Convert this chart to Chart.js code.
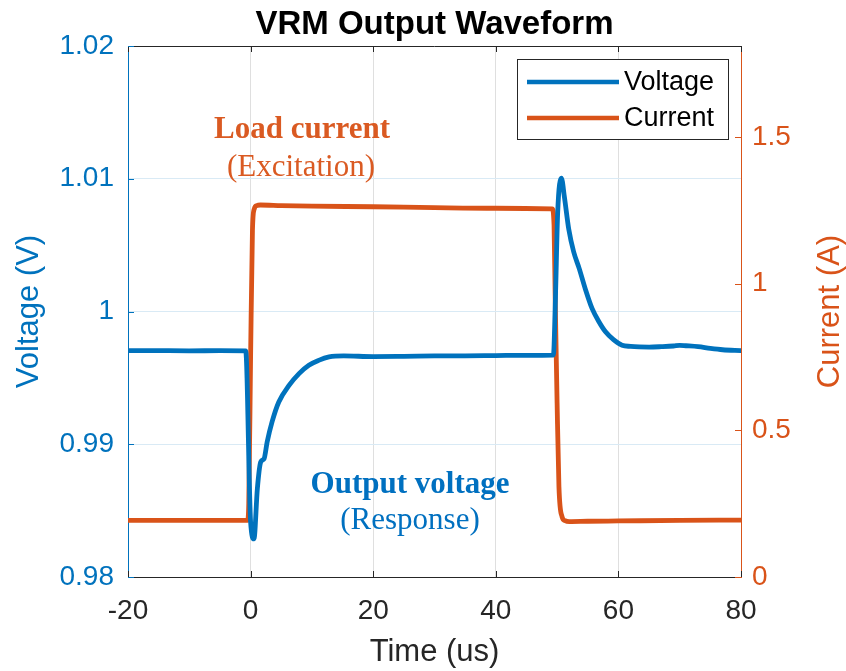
<!DOCTYPE html>
<html lang="en">
<head>
<meta charset="UTF-8">
<title>VRM Output Waveform</title>
<script src="https://cdn.jsdelivr.net/npm/chart.js"></script>
<style>
  html, body { margin: 0; padding: 0; background: #fff; }
  canvas { display: block; }
</style>
</head>
<body>
<canvas id="grafico" width="846" height="671"></canvas>
<script>
// time axis (us) and measured waveforms
const tVolt = [-20, -15, -10, -5, -0.8, 0.0, 0.55, 1.1, 1.65, 2.2, 2.7, 3.5, 4.6, 6.3, 7.9, 9.5, 11.1, 12.8, 15.2, 20, 25, 30, 35, 40, 45, 49.4,
  49.7, 50.1, 50.7, 51.2, 51.9, 52.7, 53.6, 54.6, 55.7, 56.8, 57.9, 59.2, 60.6, 62, 63.4, 65, 67, 69, 70, 71, 73, 75, 77, 80];
const volt = [0.99706, 0.99705, 0.99704, 0.99705, 0.99704, 0.98415, 0.98287, 0.98664, 0.98866, 0.98891, 0.99017, 0.99168, 0.99318, 0.99445,
  0.99532, 0.99595, 0.99632, 0.99658, 0.99666, 0.99660, 0.99662, 0.99665, 0.99666, 0.99668, 0.99670, 0.99672,
  1.0005, 1.0075, 1.01004, 1.0086, 1.0062, 1.0045, 1.00325, 1.0017, 1.00023, 0.99925, 0.99847, 0.99788, 0.99746, 0.99737,
  0.99733, 0.99732, 0.99735, 0.9974, 0.99745, 0.99742, 0.99735, 0.99722, 0.99712, 0.99706];

const tCurr = [-20, -10, -0.5, -0.3, 0.0, 0.3, 0.6, 1.0, 1.6, 5, 10, 20, 30, 40, 49.2, 49.5, 49.7, 50.0, 50.3, 50.8, 51.3, 52, 55, 60, 70, 80];
const curr = [0.193, 0.193, 0.193, 0.25, 0.75, 1.18, 1.255, 1.266, 1.268, 1.266, 1.264, 1.262, 1.259, 1.257, 1.255, 1.2,
  0.935, 0.593, 0.308, 0.206, 0.192, 0.189, 0.190, 0.191, 0.193, 0.194];

const xTicks = [-20, 0, 20, 40, 60, 80];
const voltTicks = [0.98, 0.99, 1.0, 1.01, 1.02];
const currTicks = [0, 0.5, 1, 1.5];

const AZUL = '#0072BD';
const LARANJA = '#D95319';
const CINZA = '#262626';
const SANS = '"Liberation Sans", Arial, sans-serif';
const SERIF = '"Liberation Serif", "Times New Roman", serif';

function pares(xs, ys) {
  return xs.map((x, i) => ({ x: x, y: ys[i] }));
}

function rotulo(v) {
  return String(parseFloat(v.toFixed(2)));
}

// frame, inward ticks, legend, right axis label and text notes
const extras = {
  id: 'extras',
  afterDraw(chart) {
    const c = chart.ctx;
    const a = chart.chartArea;
    const sx = chart.scales.x, sy = chart.scales.y, sy1 = chart.scales.y1;

    c.save();
    c.lineWidth = 1;
    c.strokeStyle = CINZA;
    c.beginPath();
    c.moveTo(a.left, a.top + 0.5);
    c.lineTo(a.right, a.top + 0.5);
    c.stroke();

    const tk = 6;
    xTicks.forEach(v => {
      const px = Math.round(sx.getPixelForValue(v)) + 0.5;
      c.beginPath();
      c.moveTo(px, a.bottom); c.lineTo(px, a.bottom - tk);
      c.moveTo(px, a.top); c.lineTo(px, a.top + tk);
      c.stroke();
    });
    c.strokeStyle = AZUL;
    voltTicks.forEach(v => {
      const py = Math.round(sy.getPixelForValue(v)) + 0.5;
      c.beginPath(); c.moveTo(a.left, py); c.lineTo(a.left + tk, py); c.stroke();
    });
    c.strokeStyle = LARANJA;
    currTicks.forEach(v => {
      const py = Math.round(sy1.getPixelForValue(v)) + 0.5;
      c.beginPath(); c.moveTo(a.right, py); c.lineTo(a.right - tk, py); c.stroke();
    });

    // title
    c.fillStyle = '#000';
    c.font = 'bold 33px ' + SANS;
    c.textAlign = 'center';
    c.textBaseline = 'alphabetic';
    c.fillText('VRM Output Waveform', (a.left + a.right) / 2, 34);

    // right axis title, reading upward
    c.save();
    c.translate(830, (a.top + a.bottom) / 2);
    c.rotate(-Math.PI / 2);
    c.fillStyle = LARANJA;
    c.font = '31px ' + SANS;
    c.textBaseline = 'middle';
    c.fillText('Current (A)', 0, 0);
    c.restore();

    // legend
    const lx = 517, ly = 59, lw = 211, lh = 80;
    c.fillStyle = '#fff';
    c.fillRect(lx, ly, lw, lh);
    c.strokeStyle = CINZA;
    c.lineWidth = 1;
    c.strokeRect(lx + 0.5, ly + 0.5, lw, lh);
    c.font = '27px ' + SANS;
    c.textAlign = 'left';
    c.textBaseline = 'middle';
    chart.data.datasets.forEach((ds, i) => {
      const yy = ly + 23 + i * 36;
      c.strokeStyle = ds.borderColor;
      c.lineWidth = 4.5;
      c.beginPath(); c.moveTo(lx + 10, yy); c.lineTo(lx + 102, yy); c.stroke();
      c.fillStyle = '#000';
      c.fillText(ds.label, lx + 107, yy + 1);
    });

    // notes
    c.textAlign = 'center';
    c.textBaseline = 'alphabetic';
    c.fillStyle = '#DA5A22';
    c.font = 'bold 31px ' + SERIF;
    c.fillText('Load current', 302, 138);
    c.font = '31px ' + SERIF;
    c.fillText('(Excitation)', 301, 176);
    c.fillStyle = '#0070C0';
    c.font = 'bold 31px ' + SERIF;
    c.fillText('Output voltage', 410, 493);
    c.font = '31px ' + SERIF;
    c.fillText('(Response)', 410, 529);
    c.restore();
  }
};

new Chart(document.getElementById('grafico'), {
  type: 'line',
  data: {
    datasets: [{
      label: 'Voltage',
      data: pares(tVolt, volt),
      yAxisID: 'y',
      borderColor: AZUL,
      borderWidth: 4.8,
      pointRadius: 0,
      cubicInterpolationMode: 'monotone',
      borderJoinStyle: 'round',
      borderCapStyle: 'round'
    }, {
      label: 'Current',
      data: pares(tCurr, curr),
      yAxisID: 'y1',
      borderColor: LARANJA,
      borderWidth: 4.8,
      pointRadius: 0,
      cubicInterpolationMode: 'monotone',
      borderJoinStyle: 'round',
      borderCapStyle: 'round'
    }]
  },
  options: {
    responsive: false,
    animation: false,
    layout: { padding: { top: 46, left: 0, right: 0, bottom: 0 } },
    plugins: {
      legend: { display: false },
      tooltip: { enabled: false }
    },
    scales: {
      x: {
        type: 'linear',
        min: -20, max: 80,
        afterBuildTicks(s) { s.ticks = xTicks.map(v => ({ value: v })); },
        afterFit(s) { s.height = 671 - 577; },
        ticks: { color: CINZA, font: { family: SANS, size: 28 }, padding: 17, maxRotation: 0 },
        grid: { color: '#dfdfdf', drawTicks: false },
        border: { color: CINZA },
        title: { display: true, text: 'Time (us)', color: CINZA, font: { family: SANS, size: 31 }, padding: 0 }
      },
      y: {
        position: 'left',
        min: 0.98, max: 1.02,
        afterBuildTicks(s) { s.ticks = voltTicks.map(v => ({ value: v })); },
        afterFit(s) { s.width = 128; },
        ticks: { color: AZUL, font: { family: SANS, size: 28 }, padding: 14, callback: rotulo },
        grid: { color: '#d9eaf5', drawTicks: false },
        border: { color: AZUL },
        title: { display: true, text: 'Voltage (V)', color: AZUL, font: { family: SANS, size: 31 }, padding: 11 }
      },
      y1: {
        position: 'right',
        min: 0, max: 1.81,
        afterBuildTicks(s) { s.ticks = currTicks.map(v => ({ value: v })); },
        afterFit(s) { s.width = 846 - 741; },
        ticks: { color: LARANJA, font: { family: SANS, size: 28 }, padding: 11, callback: rotulo },
        grid: { drawOnChartArea: false, drawTicks: false },
        border: { color: LARANJA }
      }
    }
  },
  plugins: [extras]
});
</script>
</body>
</html>
